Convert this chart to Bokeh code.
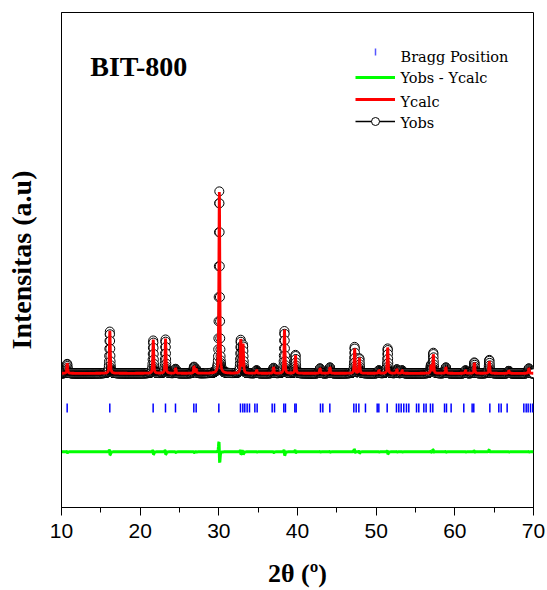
import numpy as np
from bokeh.plotting import figure
from bokeh.models import (Range1d, SingleIntervalTicker, FixedTicker, Legend,
                          LegendItem, Label, ColumnDataSource, Arrow)
from bokeh.embed import file_html
from bokeh.resources import INLINE

# ---- data ----
peak_pos = [10.72, 16.14, 21.66, 23.22, 24.50, 26.84, 27.12, 30.06, 32.78, 33.08,
            34.80, 36.96, 38.34, 39.74, 42.86, 44.12, 47.26, 47.86, 50.34, 51.46,
            52.62, 53.30, 56.96, 57.26, 58.86, 61.36, 62.48, 64.38, 66.86, 69.40]
obs_height = [95, 420, 330, 340, 45, 65, 40, 1830, 330, 280,
              30, 55, 425, 185, 50, 60, 265, 150, 30, 250,
              40, 30, 80, 205, 60, 30, 110, 135, 25, 50]
calc_height = [100, 430, 340, 350, 50, 70, 40, 1835, 340, 290,
               30, 60, 440, 180, 50, 60, 250, 155, 30, 260,
               40, 30, 80, 190, 60, 30, 105, 120, 25, 50]
bragg_pos = [10.72, 16.14, 21.65, 23.22, 24.49, 26.82, 27.12, 30.00, 32.75, 33.05,
             33.30, 33.60, 33.90, 34.58, 34.87, 36.78, 37.08, 38.26, 38.47, 39.66,
             39.83, 42.92, 43.22, 44.11, 47.16, 47.46, 47.80, 48.64, 50.13, 50.34,
             51.40, 52.58, 52.88, 53.18, 53.51, 53.85, 54.15, 55.13, 55.42, 56.06,
             56.35, 56.90, 57.20, 58.69, 58.94, 59.53, 61.14, 62.20, 62.41, 64.45,
             65.59, 65.89, 66.65, 68.77, 69.07, 69.32, 69.62, 69.91]
x_ticks_labels = ["10", "20", "30", "40", "50", "60", "70"]
legend_labels = ["Bragg Position", "Yobs - Ycalc", "Ycalc", "Yobs"]

# profile parameters
fwhm = 0.14
eta = 0.5
calc_shift = 0.006
diff_offset = -790
bragg_level = -350

two_theta = np.round(np.arange(10.0, 70.0001, 0.02), 2)


def profile(x, pos, hts, shift=0.0):
    y = np.zeros_like(x)
    for p, h in zip(pos, hts):
        d = (x - (p + shift)) / fwhm
        L = 1.0 / (1.0 + 4.0 * d * d)
        G = np.exp(-4.0 * np.log(2.0) * d * d)
        y += h * (eta * L + (1 - eta) * G)
    return y


y_obs = profile(two_theta, peak_pos, obs_height)
y_calc = profile(two_theta, peak_pos, calc_height, calc_shift)
y_diff = y_obs - y_calc + diff_offset

src = ColumnDataSource(dict(x=two_theta, obs=y_obs, calc=y_calc, diff=y_diff))
bragg_src = ColumnDataSource(dict(x=bragg_pos, y=[bragg_level] * len(bragg_pos)))

p = figure(width=547, height=590, output_backend="svg", toolbar_location=None,
           x_range=Range1d(10, 70), y_range=Range1d(-1350, 3630),
           min_border_left=61, min_border_right=14, min_border_top=12,
           min_border_bottom=80)
p.background_fill_color = "white"
p.border_fill_color = "white"
p.outline_line_color = "black"
p.outline_line_width = 1
p.xgrid.visible = False
p.ygrid.visible = False

r_bragg = p.scatter("x", "y", source=bragg_src, marker="dash", size=9,
                    angle=np.pi / 2, line_color="#0000ff", line_width=1.5)
r_diff = p.line("x", "diff", source=src, line_color="#00ff00", line_width=3)
r_obs_line = p.line("x", "obs", source=src, line_color="black", line_width=1.5)
r_obs_pts = p.scatter("x", "obs", source=src, marker="circle", size=9,
                      line_color="black", line_width=1, fill_color="white")
r_calc = p.line("x", "calc", source=src, line_color="#ff0000", line_width=2.8)
# invisible stand-in so the legend row keeps its place; tick drawn below
r_bragg_key = p.scatter(x=[], y=[], marker="dash", size=0, line_alpha=0,
                        fill_alpha=0)

# x axis
xa = p.xaxis[0]
xa.ticker = SingleIntervalTicker(interval=10, num_minor_ticks=2)
xa.major_label_overrides = {10 * (i + 1): s for i, s in enumerate(x_ticks_labels)}
xa.major_tick_out = 8
xa.major_tick_in = 0
xa.minor_tick_out = 5
xa.minor_tick_in = 0
xa.major_label_standoff = 8
xa.major_label_text_font = "Liberation Sans"
xa.major_label_text_font_size = "21px"
xa.major_label_text_color = "black"
xa.axis_line_color = "black"
xa.major_tick_line_color = "black"
xa.minor_tick_line_color = "black"
xa.axis_label = "2θ (º)"
xa.axis_label_text_font = "Liberation Serif"
xa.axis_label_text_font_style = "bold"
xa.axis_label_text_font_size = "26px"
xa.axis_label_text_color = "black"
xa.axis_label_standoff = 18

# y axis
ya = p.yaxis[0]
ya.ticker = FixedTicker(ticks=[])
ya.major_tick_out = 0
ya.minor_tick_out = 0
ya.major_label_standoff = 0
ya.axis_line_color = "black"
ya.axis_label = "Intensitas (a.u)"
ya.axis_label_text_font = "Liberation Serif"
ya.axis_label_text_font_style = "bold"
ya.axis_label_text_font_size = "28px"
ya.axis_label_text_color = "black"
ya.axis_label_standoff = 25

# legend keys from the renderers; label texts drawn as serif labels
legend = Legend(items=[
    LegendItem(label="", renderers=[r_bragg_key]),
    LegendItem(label="", renderers=[r_diff]),
    LegendItem(label="", renderers=[r_calc]),
    LegendItem(label="", renderers=[r_obs_line, r_obs_pts]),
], location=(294, 376))
legend.border_line_color = None
legend.background_fill_alpha = 0
legend.padding = 0
legend.margin = 0
legend.spacing = 2
legend.glyph_width = 40
legend.glyph_height = 20
legend.label_height = 20
legend.label_width = 0
legend.label_standoff = 0
legend.label_text_font_size = "1px"
p.add_layout(legend)

label_y = [451, 430, 406, 385]
for txt, yy in zip(legend_labels, label_y):
    p.add_layout(Label(x=339, y=yy, x_units="screen", y_units="screen", text=txt,
                       text_font="DejaVu Serif", text_font_size="14.5px",
                       text_baseline="alphabetic", text_color="black"))

# vertical blue tick as the Bragg legend key (screen units, frame-relative)
key_tick = Arrow(x_start=314, y_start=452, x_end=314, y_end=459,
                 start_units="screen", end_units="screen", start=None, end=None,
                 line_color="#5555ff", line_width=1.5)
p.add_layout(key_tick)

title = Label(x=13.65, y=3090, text="BIT-800", text_font="Liberation Serif",
              text_font_style="bold", text_font_size="28px",
              text_baseline="alphabetic", text_color="black")
p.add_layout(title)

open("out.html", "w").write(file_html(p, INLINE))
